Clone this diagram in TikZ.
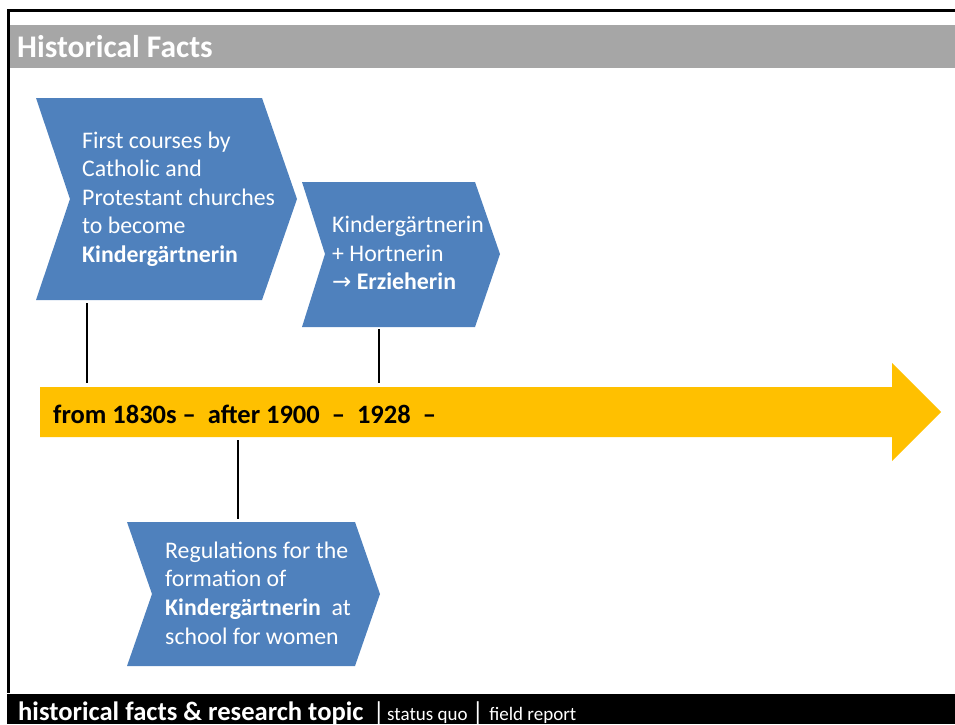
\documentclass[tikz,border=0pt]{standalone}
\usepackage{fontspec}
\setmainfont{Carlito}
\newfontfamily\arrowfont{DejaVu Sans}
\usetikzlibrary{positioning}
\definecolor{chevblue}{HTML}{4F81BD}
\definecolor{timeyellow}{HTML}{FFC000}
\definecolor{bargray}{HTML}{A6A6A6}

\begin{document}
\begin{tikzpicture}[x=1pt,y=-1pt,
    chevron/.style={fill=chevblue},
    chevtext/.style={anchor=west,align=left,text=white,inner sep=0pt,font=\fontsize{23.8}{28.6}\selectfont},
    stem/.style={line width=2.8pt,black},
    footsmall/.style={anchor=base west,inner sep=0pt,text=white,font=\fontsize{19}{21}\selectfont}
]
\useasboundingbox (0,0) rectangle (955,724);

% Frame, title bar and footer
\draw[line width=2.6pt] (8.7,693) -- (8.7,10.7) -- (955,10.7);
\fill[bargray] (10,25) rectangle (955,68);
\node[anchor=base west,inner sep=0pt,text=white,font=\fontsize{31.5}{34}\bfseries] (title) at (17,57) {Historical Facts};
\fill[black] (7.4,694) rectangle (955,724);
\node[anchor=base west,inner sep=0pt,text=white,font=\fontsize{26.6}{28}\bfseries] (topic) at (18,720) {historical facts \& research topic};
\node[footsmall,font=\fontsize{26}{28}\selectfont,right=9pt of topic.base east,anchor=base west] (sep1) {|};
\node[footsmall,right=2pt of sep1.base east,anchor=base west] (quo) {status quo};
\node[footsmall,font=\fontsize{26}{28}\selectfont,right=4pt of quo.base east,anchor=base west] (sep2) {|};
\node[footsmall,right=5pt of sep2.base east,anchor=base west] (report) {field report};

% Time line
\fill[timeyellow] (40,387) -- (892,387) -- (892,363) -- (941,412) -- (892,461) -- (892,437) -- (40,437) -- cycle;
\node[anchor=base west,inner sep=0pt,font=\fontsize{26.5}{28}\bfseries] (years) at (53,423)
    {from 1830s – \ after 1900 \ – \ 1928 \ –};

% Chevrons
\fill[chevron] (36,98) -- (262,98) -- (297,199) -- (262,300) -- (36,300) -- (70,199) -- cycle;
\node[chevtext] (courses) at (82,199) {First courses by\\Catholic and\\Protestant churches\\to become\\\textbf{Kindergärtnerin}};

\fill[chevron] (302,182) -- (475,182) -- (500,254) -- (475,327) -- (302,327) -- (325,254) -- cycle;
\node[chevtext] (erzieherin) at (332,253) {Kindergärtnerin\\+ Hortnerin\\{\arrowfont\fontsize{23}{26}\selectfont →} \textbf{Erzieherin}};

\fill[chevron] (127,522) -- (355,522) -- (380,594) -- (355,666) -- (127,666) -- (152,594) -- cycle;
\node[chevtext] (regulations) at (165,593) {Regulations for the\\formation of\\\textbf{Kindergärtnerin}\ \ at\\school for women};

% Stems to the time line
\coordinate (c1top) at (87,303);
\coordinate (c1bot) at (87,383);
\coordinate (c2top) at (379,329);
\coordinate (c2bot) at (379,383);
\coordinate (c3top) at (238,440);
\coordinate (c3bot) at (238,519);
\draw[stem] (c1top) -- (c1bot);
\draw[stem] (c2top) -- (c2bot);
\draw[stem] (c3top) -- (c3bot);

\end{tikzpicture}
\end{document}
